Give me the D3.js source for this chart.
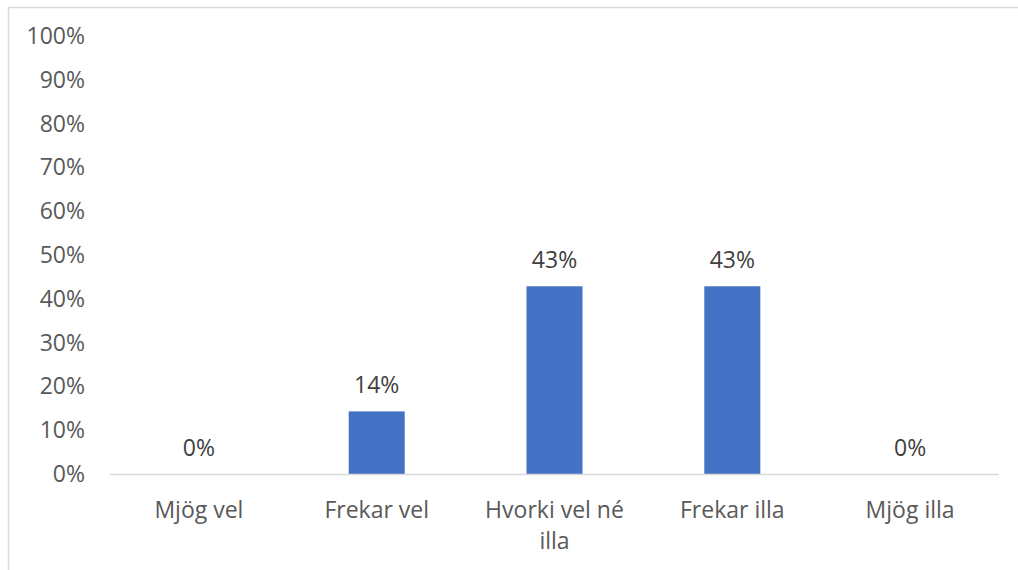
<!DOCTYPE html>
<html>
<head>
<meta charset="utf-8"/>
<title>Mjög vel / illa</title>
<script src="https://cdn.jsdelivr.net/npm/d3@7/dist/d3.min.js"></script>
<style>
  body { margin: 0; background: #fff; }
  text { font-family: "Open Sans", sans-serif; }
</style>
</head>
<body>
<div id="chart"></div>
<script>
    // values
    var categories = ["Mjög vel", "Frekar vel", "Hvorki vel né illa", "Frekar illa", "Mjög illa"];
    var values = [0, 0.1429, 0.4286, 0.4286, 0];
    var yTicks = [0, 0.1, 0.2, 0.3, 0.4, 0.5, 0.6, 0.7, 0.8, 0.9, 1.0];

    var W = 1018, H = 570;
    var margin = {top: 36, right: 19, bottom: 96, left: 110};
    var width = W - margin.left - margin.right,
        height = H - margin.top - margin.bottom;

    var svg = d3.select("#chart").append("svg")
        .attr("width", W)
        .attr("height", H);

    // chart border (only top and left are visible in the crop)
    svg.append("rect")
        .attr("x", 8.5).attr("y", 7.5)
        .attr("width", W + 20).attr("height", H + 20)
        .attr("fill", "none")
        .attr("stroke", "#d9d9d9")
        .attr("stroke-width", 1.5);

    var g = svg.append("g")
        .attr("transform", "translate(" + margin.left + "," + margin.top + ")");

    var x = d3.scaleBand()
        .domain(categories)
        .range([0, width])
        .paddingInner(0.685)
        .paddingOuter(0.3425);

    var y = d3.scaleLinear()
        .domain([0, 1])
        .range([height, 0]);

    // y labels
    g.selectAll(".ylab")
        .data(yTicks)
        .enter()
        .append("text")
        .attr("x", -25)
        .attr("y", function(d) { return y(d); })
        .attr("dy", "0.35em")
        .attr("text-anchor", "end")
        .attr("fill", "#595959")
        .style("font-size", "23px")
        .text(function(d) { return d3.format(".0%")(d); });

    // bars
    g.selectAll(".bar")
        .data(values)
        .enter()
        .append("rect")
        .attr("x", function(d, i) { return x(categories[i]); })
        .attr("y", function(d) { return y(d); })
        .attr("width", x.bandwidth())
        .attr("height", function(d) { return height - y(d); })
        .attr("fill", "#4472c4");

    // x axis line
    g.append("line")
        .attr("x1", 0).attr("x2", width)
        .attr("y1", height + 0.5).attr("y2", height + 0.5)
        .attr("stroke", "#d9d9d9")
        .attr("stroke-width", 1.5);

    // data labels
    g.selectAll(".dlab")
        .data(values)
        .enter()
        .append("text")
        .attr("x", function(d, i) { return x(categories[i]) + x.bandwidth() / 2; })
        .attr("y", function(d) { return y(d) - 26; })
        .attr("dy", "0.35em")
        .attr("text-anchor", "middle")
        .attr("fill", "#404040")
        .style("font-size", "23px")
        .text(function(d) { return Math.round(d * 100) + "%"; });

    // category labels, wrapped like the original
    var catLines = [["Mjög vel"], ["Frekar vel"], ["Hvorki vel né", "illa"], ["Frekar illa"], ["Mjög illa"]];
    g.selectAll(".xlab")
        .data(categories)
        .enter()
        .append("text")
        .attr("text-anchor", "middle")
        .attr("fill", "#595959")
        .style("font-size", "23px")
        .each(function(d, i) {
            var t = d3.select(this);
            catLines[i].forEach(function(line, j) {
                t.append("tspan")
                    .attr("x", x(d) + x.bandwidth() / 2)
                    .attr("y", height + 36 + j * 31)
                    .attr("dy", "0.35em")
                    .text(line);
            });
        });
</script>
</body>
</html>
